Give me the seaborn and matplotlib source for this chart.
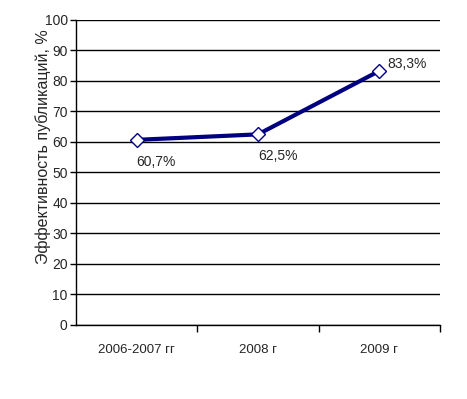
import matplotlib
matplotlib.use("Agg")
import matplotlib.pyplot as plt
import seaborn as sns
import pandas as pd

# data
years = ["2006-2007 гг", "2008 г", "2009 г"]
efficiency = [60.7, 62.5, 83.3]
point_labels = ["60,7%", "62,5%", "83,3%"]
y_ticks = list(range(0, 101, 10))

sns.set_style("white")
plt.rcParams["font.family"] = ["Liberation Sans", "DejaVu Sans"]

df = pd.DataFrame({"year": years, "value": efficiency})

fig = plt.figure(figsize=(4.67, 3.99), dpi=100)
ax = fig.add_axes([0.1627, 0.1855, 0.7794, 0.7644])

sns.lineplot(data=df, x="year", y="value", ax=ax, color="#000080", linewidth=3,
             marker="D", markersize=7, markerfacecolor="white",
             markeredgecolor="#000080", markeredgewidth=1, sort=False)

ax.set_xlim(-0.5, len(years) - 0.5)
ax.set_ylim(0, 100)
ax.set_yticks(y_ticks)
ax.set_yticklabels([str(t) for t in y_ticks], fontsize=10)
ax.set_xticks(range(len(years)))
ax.set_xticklabels(years, fontsize=9.5)
ax.tick_params(axis="x", length=0, pad=14)
ax.tick_params(axis="y", length=4, width=1, color="black", direction="out", left=True, pad=2)
# category boundary ticks
ax.set_xticks([i + 0.5 for i in range(len(years))], minor=True)
ax.tick_params(axis="x", which="minor", length=5, width=1, color="black", direction="out", bottom=True)

ax.grid(axis="y", color="black", linewidth=1)
ax.set_axisbelow(True)
for s in ["top", "right"]:
    ax.spines[s].set_visible(False)
for s in ["left", "bottom"]:
    ax.spines[s].set_color("black")
    ax.spines[s].set_linewidth(1)

ax.set_xlabel("")
ax.set_ylabel("Эффективность публикаций, %", fontsize=11.5)
ax.yaxis.set_label_coords(-0.07, 0.585)

offsets = [(0, -22, "left", "center"), (0, -22, "left", "center"), (8, 7, "left", "center")]
for i, (lab, v) in enumerate(zip(point_labels, efficiency)):
    dx, dy, ha, va = offsets[i]
    ax.annotate(lab, (i, v), xytext=(dx, dy), textcoords="offset pixels",
                ha=ha, va=va, fontsize=10)

fig.savefig("out.png", dpi=100)
